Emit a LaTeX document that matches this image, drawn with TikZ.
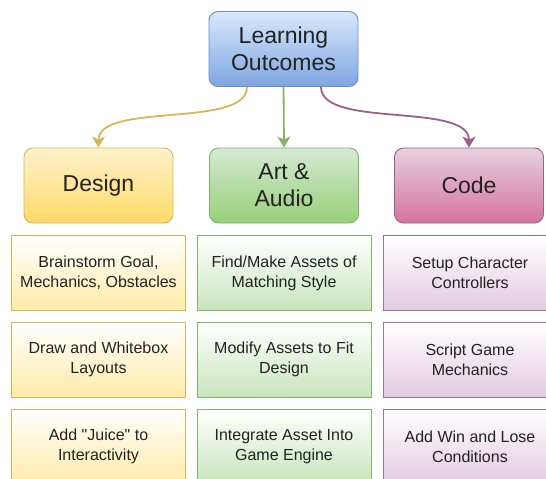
\documentclass[tikz,border=0pt]{standalone}
\usepackage{fontspec}
\setmainfont{Liberation Sans}[Ligatures=TeXOff]
\usetikzlibrary{arrows.meta}
\definecolor{bluetop}{HTML}{DAE8FC}\definecolor{bluebot}{HTML}{7EA6E0}\definecolor{bluestroke}{HTML}{6C8EBF}
\definecolor{yeltop}{HTML}{FFF2CC}\definecolor{yelbot}{HTML}{FFD966}\definecolor{yelstroke}{HTML}{D6B656}
\definecolor{grntop}{HTML}{D5E8D4}\definecolor{grnbot}{HTML}{97D077}\definecolor{grnstroke}{HTML}{82B366}
\definecolor{pnktop}{HTML}{E6D0DE}\definecolor{pnkbot}{HTML}{D5739D}\definecolor{pnkstroke}{HTML}{996185}
\definecolor{yelgrid}{HTML}{FFEBA8}\definecolor{grngrid}{HTML}{C8E4BC}\definecolor{pnkgrid}{HTML}{E2CBE0}
\definecolor{pplstroke}{HTML}{9673A6}
\definecolor{txt}{HTML}{222222}
\tikzset{
  head/.style={rectangle, rounded corners=9pt, minimum width=149pt, minimum height=75pt,
    align=center, text=txt, font=\fontsize{23}{27}\selectfont, line width=0.9pt, inner sep=0pt},
  topbox/.style={head, draw=bluestroke, top color=bluetop, bottom color=bluebot},
  catY/.style={head, draw=yelstroke, top color=yeltop, bottom color=yelbot},
  catG/.style={head, draw=grnstroke, top color=grntop, bottom color=grnbot},
  catP/.style={head, draw=pnkstroke, top color=pnktop, bottom color=pnkbot},
  cell/.style={rectangle, minimum width=174pt, minimum height=75pt, align=center, text=txt,
    font=\fontsize{16}{20}\selectfont, line width=0.9pt, inner sep=0pt},
  cellY/.style={cell, draw=yelstroke, top color=white, bottom color=yelgrid},
  cellG/.style={cell, draw=grnstroke, top color=white, bottom color=grngrid},
  cellP/.style={cell, draw=pplstroke, top color=white, bottom color=pnkgrid},
  conn/.style={line width=1.8pt, -{Stealth[length=11pt, width=13pt, inset=3pt]}},
}
\begin{document}
\begin{tikzpicture}[x=1pt, y=-1pt]
\useasboundingbox (0,0) rectangle (546,479);
\node[topbox] (lo) at (283.5,49) {Learning\\Outcomes};
\node[catY] (design) at (98.5,185.5) {Design};
\node[catG] (art) at (284,185.5) {Art \&\\Audio};
\node[catP] (code) at (469,185.5) {Code};

\node[cellY] (d1) at (98.5,273) {Brainstorm Goal,\\Mechanics, Obstacles};
\node[cellY] (d2) at (98.5,359.5) {Draw and Whitebox\\Layouts};
\node[cellY] (d3) at (98.5,446.5) {Add "Juice" to\\Interactivity};
\node[cellG] (a1) at (284,273) {Find/Make Assets of\\Matching Style};
\node[cellG] (a2) at (284,359.5) {Modify Assets to Fit\\Design};
\node[cellG] (a3) at (284,446.5) {Integrate Asset Into\\Game Engine};
\node[cellP] (c1) at (470,273) {Setup Character\\Controllers};
\node[cellP] (c2) at (470,359.5) {Script Game\\Mechanics};
\node[cellP] (c3) at (470,446.5) {Add Win and Lose\\Conditions};

\coordinate (sl) at ([xshift=-36.5pt]lo.south);
\coordinate (sr) at ([xshift=37.5pt]lo.south);
\draw[conn, color=yelstroke] (sl) .. controls ([yshift=-42pt]sl) and ([yshift=46pt]design.north) .. (design.north);
\draw[conn, color=grnstroke] (lo.south) -- (art.north);
\draw[conn, color=pnkstroke] (sr) .. controls ([yshift=-42pt]sr) and ([yshift=46pt]code.north) .. (code.north);
\end{tikzpicture}
\end{document}
